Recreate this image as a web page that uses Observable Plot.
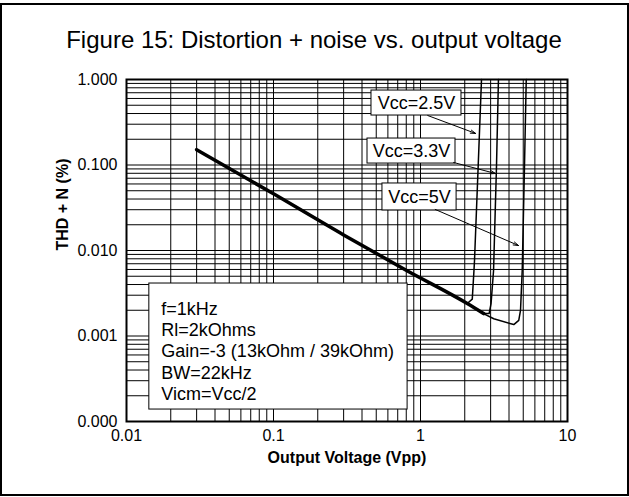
<!DOCTYPE html>
<html><head><meta charset="utf-8">
<script src="https://cdn.jsdelivr.net/npm/d3@7"></script>
<script src="https://cdn.jsdelivr.net/npm/@observablehq/plot@0.6"></script>
<style>
body{margin:0;background:#fff;}
#wrap{position:relative;width:629px;height:497px;}
#wrap svg{position:absolute;left:0;top:0;}
#border{position:absolute;left:0;top:3px;width:629px;height:493px;box-sizing:border-box;border:2px solid #000;pointer-events:none;}
</style></head><body>
<div id="wrap"></div>
<script>
// ---- data ----
const titleText = "Figure 15: Distortion + noise vs. output voltage";
const xLabel = "Output Voltage (Vpp)";
const yLabel = "THD + N (%)";

const xTickValues = [0.01, 0.1, 1, 10];
const xTickLabels = ["0.01", "0.1", "1", "10"];
const yTickValues = [1, 0.1, 0.01, 0.001, 0.0001];
const yTickLabels = ["1.000", "0.100", "0.010", "0.001", "0.000"];
const gridMultipliers = [1, 2, 3, 4, 5, 6, 7, 8, 9];

// common noise-limited line (all supplies)
const mainX = [0.03, 0.1, 0.3, 0.81, 2.08, 2.69];
const mainY = [0.151, 0.046, 0.0152, 0.0058, 0.0024, 0.00183];
// Vcc = 2.5 V clipping branch
const vcc25X = [2.08, 2.25, 2.31, 2.33, 2.47, 2.60];
const vcc25Y = [0.0024, 0.0027, 0.0058, 0.0076, 0.1, 1.0];
// Vcc = 3.3 V
const vcc33X = [2.69, 2.93, 3.02, 3.14, 3.29, 3.39];
const vcc33Y = [0.00183, 0.00183, 0.0024, 0.0058, 0.1, 1.0];
// Vcc = 5 V
const vcc5X = [2.56, 3.15, 4.31, 4.66, 4.79, 4.92, 5.10, 5.24];
const vcc5Y = [0.0019, 0.00159, 0.00136, 0.00152, 0.00199, 0.00583, 0.1, 1.0];

// labels with their boxes and arrows (data coordinates)
const vccLabels = ["Vcc=2.5V", "Vcc=3.3V", "Vcc=5V"];
const vccBoxX1 = [0.464, 0.436, 0.551];
const vccBoxX2 = [1.90, 1.73, 1.76];
const vccBoxY1 = [0.743, 0.204, 0.0608];
const vccBoxY2 = [0.379, 0.104, 0.0294];
const vccTextX = [0.94, 0.869, 0.984];
const vccTextY = [0.531, 0.146, 0.0422];
const arrowX1 = [1.12, 1.68, 1.26];
const arrowY1 = [0.379, 0.107, 0.0302];
const arrowX2 = [2.37, 3.24, 4.64];
const arrowY2 = [0.234, 0.0795, 0.01144];

const conditionLines = ["f=1kHz", "Rl=2kOhms", "Gain=-3 (13kOhm / 39kOhm)", "BW=22kHz", "Vicm=Vcc/2"];
const condBox = {x1: 0.0143, x2: 0.817, y1: 0.00411, y2: 0.000138};
const condTextY = 0.000677;

// ---- derived tables ----
const decadesX = [0.01, 0.1, 1];
const decadesY = [0.0001, 0.001, 0.01, 0.1];
const xGrid = decadesX.flatMap(d => gridMultipliers.map(m => d * m)).concat([10]);
const yGrid = decadesY.flatMap(d => gridMultipliers.map(m => d * m)).concat([1]);
const toPts = (xs, ys) => xs.map((x, i) => ({x, y: ys[i]}));
const mainPts = toPts(mainX, mainY);
const curves = [toPts(vcc25X, vcc25Y), toPts(vcc33X, vcc33Y), toPts(vcc5X, vcc5Y)];
const labelRows = vccLabels.map((t, i) => ({
  t, x1: vccBoxX1[i], x2: vccBoxX2[i], y1: vccBoxY1[i], y2: vccBoxY2[i],
  tx: vccTextX[i], ty: vccTextY[i],
  ax1: arrowX1[i], ay1: arrowY1[i], ax2: arrowX2[i], ay2: arrowY2[i]
}));

const chart = Plot.plot({
  width: 629, height: 497,
  marginLeft: 126, marginRight: 62, marginTop: 79, marginBottom: 76,
  style: {fontFamily: "'Liberation Sans', Arial, sans-serif", fontSize: "16px", background: "transparent", color: "black"},
  x: {type: "log", domain: [0.01, 10]},
  y: {type: "log", domain: [0.0001, 1]},
  marks: [
    Plot.gridX(xGrid, {stroke: "black", strokeOpacity: 1, strokeWidth: 1}),
    Plot.gridY(yGrid, {stroke: "black", strokeOpacity: 1, strokeWidth: 1}),
    Plot.line(mainPts, {x: "x", y: "y", stroke: "black", strokeWidth: 3.5, curve: "monotone-x"}),
    ...curves.map(c => Plot.line(c, {x: "x", y: "y", stroke: "black", strokeWidth: 1.5, curve: "linear"})),
    Plot.rect([condBox], {x1: "x1", x2: "x2", y1: "y1", y2: "y2", fill: "white", stroke: "black", strokeWidth: 1}),
    Plot.text([conditionLines.join("\n")], {x: () => condBox.x1, y: () => condTextY, dx: 12, textAnchor: "start", lineAnchor: "middle", lineHeight: 1.18, fontSize: 18, fill: "black"}),
    Plot.rect(labelRows, {x1: "x1", x2: "x2", y1: "y1", y2: "y2", fill: "white", stroke: "black", strokeWidth: 1}),
    Plot.text(labelRows, {x: "tx", y: "ty", text: "t", fontSize: 18, fill: "black"}),
    Plot.arrow(labelRows, {x1: "ax1", y1: "ay1", x2: "ax2", y2: "ay2", stroke: "black", strokeWidth: 1, headLength: 8, headAngle: 35}),
    Plot.frame({stroke: "black", strokeWidth: 2}),
    Plot.axisX(xTickValues, {tickFormat: d => xTickLabels[xTickValues.indexOf(d)], tickSize: 0, tickPadding: 8, fontSize: 16, label: null}),
    Plot.axisY(yTickValues, {tickFormat: d => yTickLabels[yTickValues.indexOf(d)], tickSize: 0, tickPadding: 9, fontSize: 16, label: null}),
    Plot.text([xLabel], {frameAnchor: "bottom", dy: 41, fontSize: 16, fontWeight: "bold", fill: "black"}),
    Plot.text([yLabel], {frameAnchor: "left", dx: -64, rotate: -90, fontSize: 16, fontWeight: "bold", fill: "black"}),
    Plot.text([titleText], {frameAnchor: "top", dx: -33, dy: -49, fontSize: 24, fill: "black"})
  ]
});
const wrap = document.getElementById("wrap");
wrap.appendChild(chart);
const b = document.createElement("div");
b.id = "border";
wrap.appendChild(b);
</script>
</body></html>
